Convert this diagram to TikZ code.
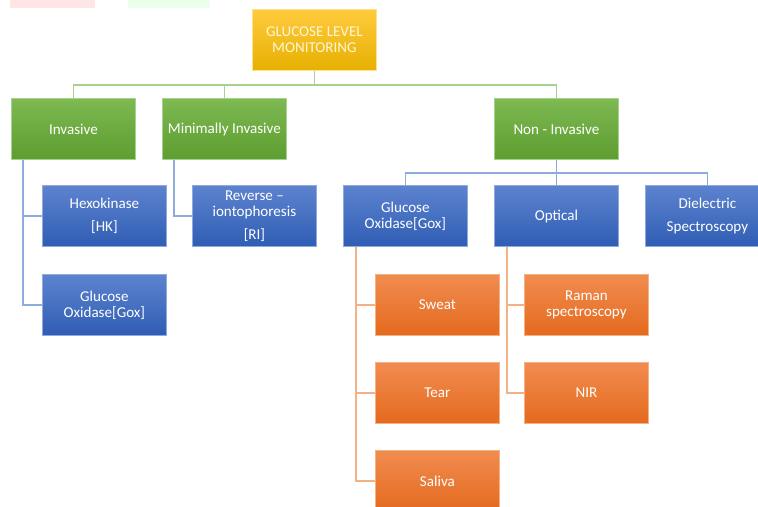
\documentclass[tikz,border=0pt]{standalone}
\usepackage{fontspec}
\setmainfont{Carlito}
\usepackage{tikz}
\usetikzlibrary{positioning,calc}
\definecolor{cGoldT}{RGB}{255,203, 62}
\definecolor{cGoldB}{RGB}{230,176,  0}
\definecolor{cGoldTx}{RGB}{255,246,214}
\definecolor{cGrnT}{RGB}{126,185, 82}
\definecolor{cGrnB}{RGB}{ 92,157, 48}
\definecolor{cGrnLn}{RGB}{169,209,142}
\definecolor{cBluT}{RGB}{ 93,131,207}
\definecolor{cBluB}{RGB}{ 47, 93,180}
\definecolor{cBluLn}{RGB}{143,170,220}
\definecolor{cOrgT}{RGB}{241,140, 80}
\definecolor{cOrgB}{RGB}{228,106, 30}
\definecolor{cOrgLn}{RGB}{244,177,131}
\tikzset{
  blk/.style ={rectangle,anchor=north west,minimum width=93pt,minimum height=46pt,
               inner sep=2pt,align=center,text=white,line width=0.6pt,
               font=\fontsize{11.3}{12}\selectfont},
  gold/.style={blk,draw=cGoldT!60,top color=cGoldT,bottom color=cGoldB,text=cGoldTx},
  grn/.style ={blk,draw=cGrnLn,top color=cGrnT,bottom color=cGrnB},
  blu/.style ={blk,draw=cBluLn,top color=cBluT,bottom color=cBluB},
  org/.style ={blk,draw=cOrgLn,top color=cOrgT,bottom color=cOrgB},
  lg/.style  ={draw=cGrnLn,line width=1.1pt},
  lb/.style  ={draw=cBluLn,line width=1.1pt},
  lo/.style  ={draw=cOrgLn,line width=1.1pt},
}
\begin{document}
\begin{tikzpicture}[x=0.75pt,y=-0.75pt]
\clip (0,0) rectangle (758,507);

%% ================= faint marks on the top edge ==========================
\fill[red!10] (10,0) rectangle (95,8);
\fill[green!8] (128,0) rectangle (210,8);

%% ================= root and first level =================================
\node[gold] (root) at (252,9)  {GLUCOSE LEVEL\\MONITORING};
\node[grn]  (inv)  at (11,98)  {Invasive};
\node[grn]  (mi)   at (162,98) {Minimally Invasive};
\node[grn]  (ni)   at (494,98) {Non - Invasive};

\draw[lg] (root.south) -- ++(0,14) -| (inv.north);
\draw[lg] (root.south) -- ++(0,14) -| (mi.north);
\draw[lg] (root.south) -- ++(0,14) -| (ni.north);

%% ================= invasive / minimally invasive ========================
\node[blu] (hk)   at (42,185)  {Hexokinase\\[5pt][HK]};
\node[blu] (goxa) at (42,274)  {Glucose\\Oxidase[Gox]};
\node[blu] (ri)   at (192,185) {Reverse --\\iontophoresis\\[5pt][RI]};

\draw[lb] ($(inv.south west)+(12,0)$) |- (hk.west);
\draw[lb] ($(inv.south west)+(12,0)$) |- (goxa.west);
\draw[lb] ($(mi.south west)+(12,0)$) |- (ri.west);

%% ================= non-invasive =========================================
\node[blu] (goxb) at (343,185) {Glucose\\Oxidase[Gox]};
\node[blu] (opt)  at (494,185) {Optical};
\node[blu] (die)  at (645,185) {Dielectric\\[5pt]Spectroscopy};

\draw[lb] (ni.south) -- ++(0,13) -| (goxb.north);
\draw[lb] (ni.south) -- ++(0,13) -| (opt.north);
\draw[lb] (ni.south) -- ++(0,13) -| (die.north);

\node[org] (sw)  at (375,274) {Sweat};
\node[org] (tr)  at (375,362) {Tear};
\node[org] (sa)  at (375,450) {Saliva};
\node[org] (ra)  at (524,274) {Raman\\spectroscopy};
\node[org] (nir) at (524,362) {NIR};

\foreach \n in {sw,tr,sa}
  \draw[lo] ($(goxb.south west)+(13,0)$) |- (\n.west);
\foreach \n in {ra,nir}
  \draw[lo] ($(opt.south west)+(13,0)$) |- (\n.west);

\end{tikzpicture}
\end{document}
